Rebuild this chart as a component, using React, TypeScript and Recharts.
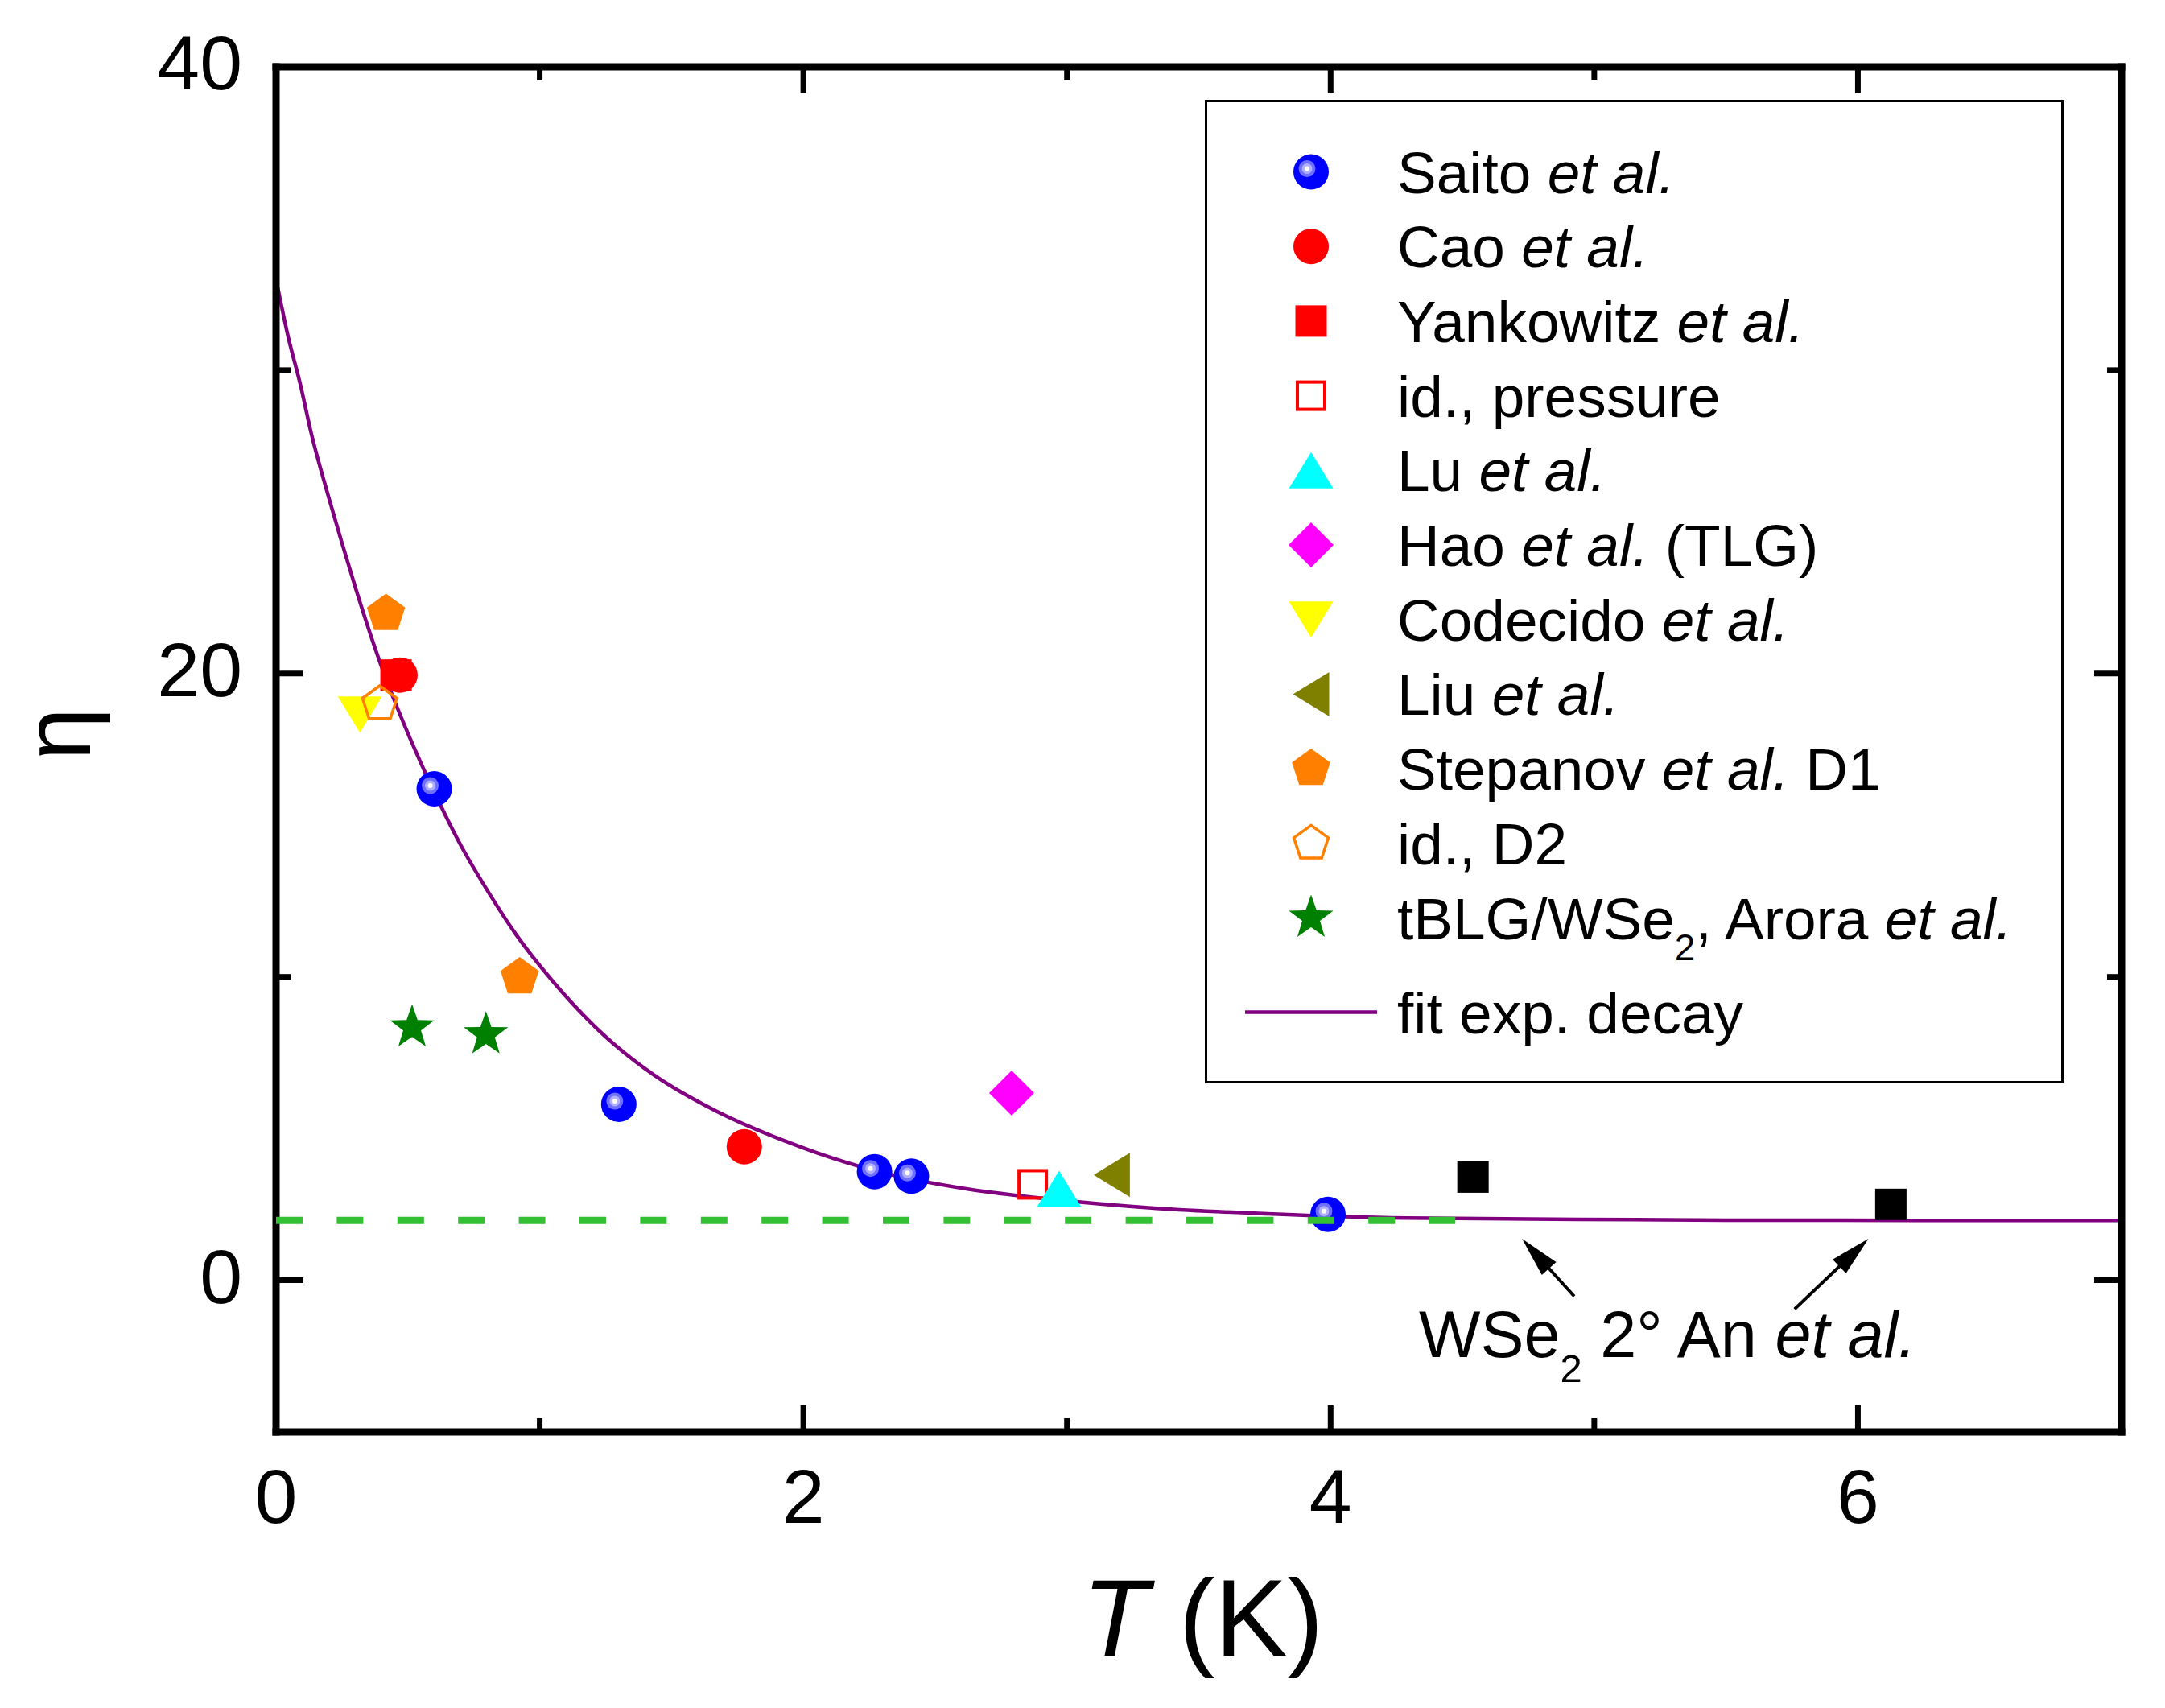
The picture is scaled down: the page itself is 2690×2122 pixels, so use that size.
import React from 'react';
import {
  ComposedChart,
  Scatter,
  Line,
  XAxis,
  YAxis,
  Legend,
  ReferenceLine,
  ReferenceDot
} from 'recharts';

const FONT = '"Liberation Sans", Arial, Helvetica, sans-serif';

const xTicks = [0, 1, 2, 3, 4, 5, 6, 7];
const yTicks = [0, 10, 20, 30, 40];

// eta vs T (K)
const saito = [[0.6, 16.2], [1.3, 5.8], [2.27, 3.58], [2.41, 3.43], [3.99, 2.17]];
const cao = [[0.47, 19.95], [1.776, 4.4]];
const yankowitz = [[0.455, 19.95]];
const yankowitzPressure = [[2.87, 3.16]];
const lu = [[2.97, 3.01]];
const hao = [[2.79, 6.17]];
const codecido = [[0.318, 18.65]];
const liu = [[3.17, 3.47]];
const stepanovD1 = [[0.417, 21.97], [0.924, 9.99]];
const stepanovD2 = [[0.393, 19.0]];
const arora = [[0.516, 8.33], [0.796, 8.1]];
const an = [[4.54, 3.4], [6.125, 2.5]];

// exp. decay fit
const fitT = [0, 0.046, 0.093, 0.134, 0.195, 0.25, 0.304, 0.393, 0.454, 0.509, 0.589, 0.7, 0.805,
  0.91, 1.05, 1.226, 1.436, 1.664, 1.927, 2.277, 2.628, 2.908, 3.34, 3.76, 4.28, 4.75, 5.5, 6.99];
const fitEta = [33.0, 31.1, 29.5, 27.9, 25.95, 24.3, 22.75, 20.4, 19.0, 17.85, 16.3, 14.35, 12.8,
  11.4, 9.85, 8.22, 6.75, 5.6, 4.6, 3.6, 3.0, 2.7, 2.37, 2.19, 2.05, 2.02, 1.98, 1.97];

// green dashed level
const levelT = [0, 4.473];
const levelEta = [1.97, 1.97];

// "WSe2 2° An et al." arrows: tail -> tip
const arrowTails = [[4.924, -0.53], [5.76, -0.95]];
const arrowTips = [[4.726, 1.37], [6.04, 1.37]];
const notePos = [4.335, -2.52];

const toPoints = (arr) => arr.map(([x, y]) => ({ x, y }));
const fitData = fitT.map((x, i) => ({ x, y: fitEta[i] }));
const levelData = levelT.map((x, i) => ({ x, y: levelEta[i] }));

const series = [
  { name: 'saito', kind: 'ball', data: saito, label: [['Saito ', ''], ['et al.', 'i']] },
  { name: 'cao', kind: 'circle', data: cao, label: [['Cao ', ''], ['et al.', 'i']] },
  { name: 'yankowitz', kind: 'square', data: yankowitz, label: [['Yankowitz ', ''], ['et al.', 'i']] },
  { name: 'pressure', kind: 'openSquare', data: yankowitzPressure, label: [['id., pressure', '']] },
  { name: 'lu', kind: 'triUp', data: lu, label: [['Lu ', ''], ['et al.', 'i']] },
  { name: 'hao', kind: 'diamond', data: hao, label: [['Hao ', ''], ['et al.', 'i'], [' (TLG)', '']] },
  { name: 'codecido', kind: 'triDown', data: codecido, label: [['Codecido ', ''], ['et al.', 'i']] },
  { name: 'liu', kind: 'triLeft', data: liu, label: [['Liu ', ''], ['et al.', 'i']] },
  { name: 'stepanov1', kind: 'pentagon', data: stepanovD1, label: [['Stepanov ', ''], ['et al.', 'i'], [' D1', '']] },
  { name: 'stepanov2', kind: 'openPentagon', data: stepanovD2, label: [['id., D2', '']] },
  { name: 'arora', kind: 'star', data: arora, label: [['tBLG/WSe', ''], ['2', 'sub'], [', Arora ', ''], ['et al.', 'i']] }
];

const polygon = (cx, cy, n, radii, rot = -Math.PI / 2) => {
  const pts = [];
  for (let i = 0; i < n; i++) {
    const a = rot + (i * 2 * Math.PI) / n;
    const r = radii[i % radii.length];
    pts.push(`${(cx + r * Math.cos(a)).toFixed(2)},${(cy + r * Math.sin(a)).toFixed(2)}`);
  }
  return pts.join(' ');
};

function marker(kind, cx, cy) {
  switch (kind) {
    case 'ball':
      return (
        <g>
          <circle cx={cx} cy={cy} r={22} fill="#0000ff" />
          <circle cx={cx - 5} cy={cy - 4} r={10.5} fill="#7070ff" />
          <circle cx={cx - 5} cy={cy - 4} r={6.5} fill="#b0b0ff" />
          <circle cx={cx - 5} cy={cy - 4} r={3} fill="#ffffff" />
        </g>
      );
    case 'circle':
      return <circle cx={cx} cy={cy} r={22} fill="#ff0000" />;
    case 'square':
      return <rect x={cx - 19.5} y={cy - 19.5} width={39} height={39} fill="#ff0000" />;
    case 'openSquare':
      return <rect x={cx - 17} y={cy - 17} width={34} height={34} fill="none" stroke="#ff0000" strokeWidth={4} />;
    case 'blackSquare':
      return <rect x={cx - 19.5} y={cy - 19.5} width={39} height={39} fill="#000000" />;
    case 'triUp':
      return <polygon points={`${cx},${cy - 22.5} ${cx + 27.5},${cy + 22.5} ${cx - 27.5},${cy + 22.5}`} fill="#00ffff" />;
    case 'triDown':
      return <polygon points={`${cx},${cy + 22.5} ${cx + 27.5},${cy - 22.5} ${cx - 27.5},${cy - 22.5}`} fill="#ffff00" />;
    case 'triLeft':
      return <polygon points={`${cx - 22.5},${cy} ${cx + 22.5},${cy - 27.5} ${cx + 22.5},${cy + 27.5}`} fill="#808000" />;
    case 'diamond':
      return <polygon points={`${cx},${cy - 28} ${cx + 28},${cy} ${cx},${cy + 28} ${cx - 28},${cy}`} fill="#ff00ff" />;
    case 'pentagon':
      return <polygon points={polygon(cx, cy, 5, [25])} fill="#ff8000" />;
    case 'openPentagon':
      return <polygon points={polygon(cx, cy, 5, [22.5])} fill="none" stroke="#ff8000" strokeWidth={3.5} />;
    case 'star':
      return <polygon points={polygon(cx, cy, 10, [29, 11.6])} fill="#008000" />;
    default:
      return <g />;
  }
}

function richText(parts, x, y, size, subSize, subShift) {
  let shifted = false;
  return (
    <text x={x} y={y} fontSize={size} fontFamily={FONT} fill="#000" style={{ whiteSpace: 'pre' }}>
      {parts.map(([t, st], i) => {
        if (st === 'sub') {
          shifted = true;
          return <tspan key={i} dy={subShift} fontSize={subSize}>{t}</tspan>;
        }
        const dy = shifted ? -subShift : undefined;
        shifted = false;
        return (
          <tspan key={i} dy={dy} fontStyle={st === 'i' ? 'italic' : 'normal'}>{t}</tspan>
        );
      })}
    </text>
  );
}

const LegendBox = () => (
  <svg width={1067} height={1222} style={{ display: 'block' }}>
    <rect x={1.5} y={1.5} width={1064} height={1219} fill="#fff" stroke="#000" strokeWidth={3} />
    {series.map((s, i) => {
      const cy = 89.5 + i * 92.7;
      return (
        <g key={s.name}>
          {marker(s.kind, 132, cy)}
          {richText(s.label, 239, cy + 26, 73, 46, 26)}
        </g>
      );
    })}
    <line x1={50} x2={214} y1={1133.5} y2={1133.5} stroke="#800080" strokeWidth={4.5} />
    {richText([['fit exp. decay', '']], 239, 1159.5, 73, 46, 26)}
  </svg>
);

const BottomTick = (p) => {
  const v = p.payload.value;
  const major = v % 2 === 0;
  return (
    <g>
      <line x1={p.x} x2={p.x} y1={p.y} y2={p.y - (major ? 33 : 17)} stroke="#000" strokeWidth={7} />
      {major && (
        <text x={p.x} y={p.y + 113} textAnchor="middle" fontSize={95} fontFamily={FONT} fill="#000">
          {v}
        </text>
      )}
    </g>
  );
};

const TopTick = (p) => {
  const major = p.payload.value % 2 === 0;
  return <line x1={p.x} x2={p.x} y1={p.y} y2={p.y + (major ? 33 : 17)} stroke="#000" strokeWidth={7} />;
};

const LeftTick = (p) => {
  const v = p.payload.value;
  const major = v % 20 === 0;
  return (
    <g>
      <line x1={p.x} x2={p.x + (major ? 34 : 18)} y1={p.y} y2={p.y} stroke="#000" strokeWidth={7} />
      {major && (
        <text x={p.x - 42} y={p.y + 28} textAnchor="end" fontSize={95} fontFamily={FONT} fill="#000">
          {v}
        </text>
      )}
    </g>
  );
};

const RightTick = (p) => {
  const major = p.payload.value % 20 === 0;
  return <line x1={p.x} x2={p.x - (major ? 34 : 18)} y1={p.y} y2={p.y} stroke="#000" strokeWidth={7} />;
};

const Arrow = (p) => {
  const { x1, y1, x2, y2 } = p;
  const dx = x2 - x1;
  const dy = y2 - y1;
  const len = Math.hypot(dx, dy) || 1;
  const ux = dx / len;
  const uy = dy / len;
  const bx = x2 - ux * 50;
  const by = y2 - uy * 50;
  return (
    <g>
      <line x1={x1} y1={y1} x2={bx + ux * 4} y2={by + uy * 4} stroke="#000" strokeWidth={4} />
      <polygon
        points={`${x2},${y2} ${bx - uy * 12},${by + ux * 12} ${bx + uy * 12},${by - ux * 12}`}
        fill="#000"
      />
    </g>
  );
};

const axisLine = { stroke: '#000', strokeWidth: 9, strokeLinecap: 'square' };

export default function App() {
  return (
    <div style={{ position: 'absolute', left: 0, top: 0, width: 2690, height: 2122, background: '#fff' }}>
      <ComposedChart width={2690} height={2122} margin={{ top: 82, right: 53, bottom: 0, left: 0 }}>
        <XAxis
          dataKey="x"
          type="number"
          domain={[0, 7]}
          ticks={xTicks}
          interval={0}
          allowDataOverflow
          height={343}
          tickSize={0}
          tickMargin={0}
          tickLine={false}
          axisLine={axisLine}
          tick={BottomTick}
          label={{
            content: (lp) => {
              const vb = lp.viewBox || { x: 343, y: 1779, width: 2293 };
              return (
                <text
                  x={vb.x + vb.width / 2 + 5}
                  y={vb.y + 278}
                  textAnchor="middle"
                  fontSize={135}
                  fontFamily={FONT}
                  fill="#000"
                  style={{ whiteSpace: 'pre' }}
                >
                  <tspan fontStyle="italic">T</tspan>
                  <tspan> (K)</tspan>
                </text>
              );
            }
          }}
        />
        <XAxis
          xAxisId="top"
          orientation="top"
          dataKey="x"
          type="number"
          domain={[0, 7]}
          ticks={xTicks}
          interval={0}
          allowDataOverflow
          height={1}
          tickSize={0}
          tickMargin={0}
          tickLine={false}
          axisLine={axisLine}
          tick={TopTick}
        />
        <YAxis
          dataKey="y"
          type="number"
          domain={[-5, 40]}
          ticks={yTicks}
          interval={0}
          allowDataOverflow
          width={343}
          tickSize={0}
          tickMargin={0}
          tickLine={false}
          axisLine={axisLine}
          tick={LeftTick}
          label={{
            content: () => (
              <text
                x={112}
                y={912}
                transform="rotate(-90, 112, 912)"
                textAnchor="middle"
                fontSize={118}
                fontFamily={FONT}
                fill="#000"
              >
                η
              </text>
            )
          }}
        />
        <YAxis
          yAxisId="right"
          orientation="right"
          dataKey="y"
          type="number"
          domain={[-5, 40]}
          ticks={yTicks}
          interval={0}
          allowDataOverflow
          width={1}
          tickSize={0}
          tickMargin={0}
          tickLine={false}
          axisLine={axisLine}
          tick={RightTick}
        />

        {/* invisible series so the top / right frame axes get a scale */}
        <Scatter
          name="frame"
          xAxisId="top"
          yAxisId="right"
          data={levelData}
          isAnimationActive={false}
          legendType="none"
          shape={() => <g />}
        />

        {series.map((s) => (
          <Scatter
            key={s.name}
            name={s.name}
            data={toPoints(s.data)}
            isAnimationActive={false}
            shape={(p) => marker(s.kind, p.cx, p.cy)}
          />
        ))}
        <Scatter
          name="an"
          data={toPoints(an)}
          isAnimationActive={false}
          shape={(p) => marker('blackSquare', p.cx, p.cy)}
        />
        <Scatter
          name="level"
          data={levelData}
          isAnimationActive={false}
          line={{ stroke: '#33c033', strokeWidth: 9, strokeDasharray: '33 42.4' }}
          lineType="joint"
          shape={() => <g />}
        />
        <Line
          name="fit"
          data={fitData}
          dataKey="y"
          type="monotone"
          stroke="#800080"
          strokeWidth={4.5}
          dot={false}
          activeDot={false}
          legendType="none"
          isAnimationActive={false}
        />

        {arrowTails.map((t, i) => (
          <ReferenceLine
            key={`arrow-${i}`}
            segment={[
              { x: t[0], y: t[1] },
              { x: arrowTips[i][0], y: arrowTips[i][1] }
            ]}
            shape={Arrow}
          />
        ))}
        <ReferenceDot
          x={notePos[0]}
          y={notePos[1]}
          shape={(p) =>
            richText(
              [['WSe', ''], ['2', 'sub'], [' 2° An ', ''], ['et al.', 'i']],
              p.cx,
              p.cy,
              81,
              49,
              31
            )
          }
        />

        <Legend
          layout="vertical"
          align="center"
          verticalAlign="middle"
          content={LegendBox}
          wrapperStyle={{ left: 1497, top: 124, width: 1067, height: 1222 }}
        />
      </ComposedChart>
    </div>
  );
}
